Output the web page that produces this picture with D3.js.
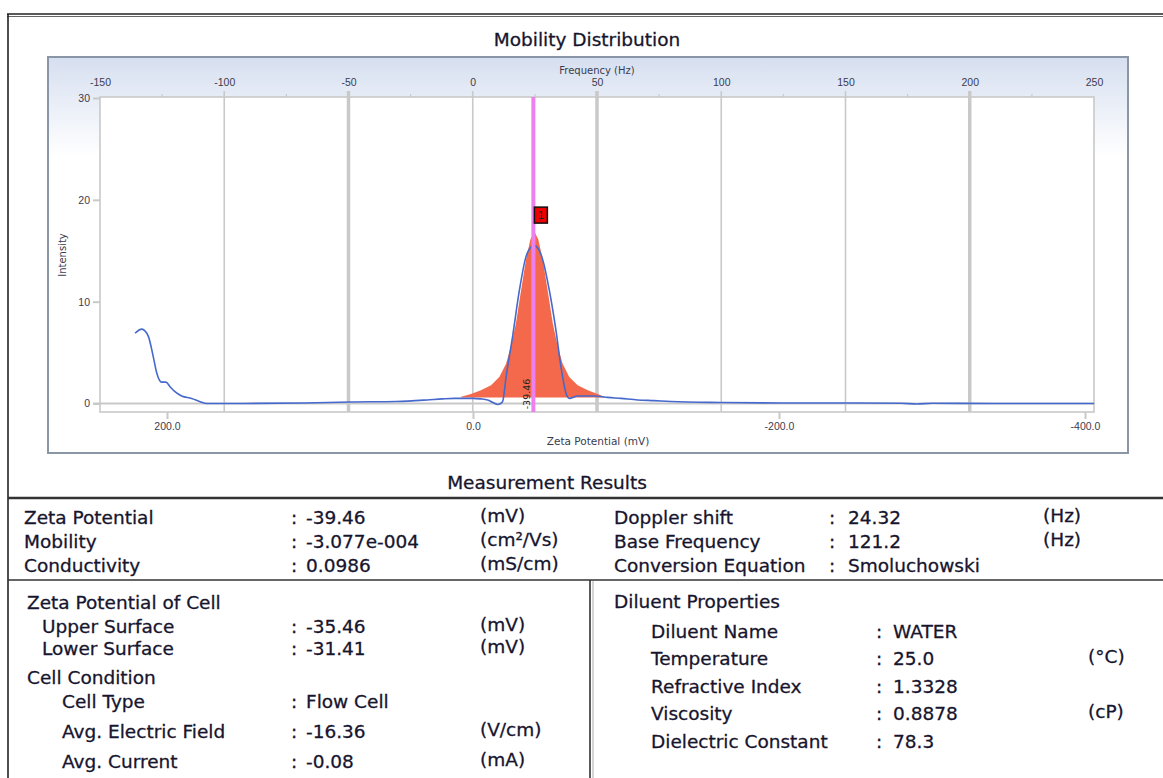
<!DOCTYPE html>
<html>
<head>
<meta charset="utf-8">
<script src="https://cdn.jsdelivr.net/npm/d3@7"></script>
<style>
  body { margin: 0; background: #fff; }
  svg { display: block; font-family: 'DejaVu Sans', Verdana, sans-serif; }
</style>
</head>
<body>
<div class="canvas"></div>
<script>
const hzTicks = [-150, -100, -50, 0, 50, 100, 150, 200, 250];
const hzMinorTicks = [-125, -75, -25, 25, 75, 125, 175, 225];
const hzThick = [-50, 50, 200];
const zetaTicks = [200, 0, -200, -400];
const intensityTicks = [0, 10, 20, 30];

const curveZeta = [220.9, 216.5, 212.2, 209, 206.7, 203.5, 200.7, 198, 194.8, 190.4, 183.9, 178.4, 174,
  150, 110, 80, 50, 30, 20, 12, 0, -5, -9.6, -13, -16.1, -18, -19.4, -21.6, -25.9, -30.3, -34.6, -37.5,
  -40.1, -42.7, -45.6, -49.9, -54.2, -57.5, -60.8, -62.9, -68.4, -79.1, -88, -96.7, -107.6, -118.3,
  -129.4, -162, -201, -250, -280, -290, -300, -340, -406];
const curveIntensity = [6.9, 7.3, 6.6, 4.6, 3.0, 2.1, 2.1, 1.65, 1.16, 0.74, 0.5, 0.18, 0.0,
  0.0, 0.05, 0.15, 0.2, 0.35, 0.45, 0.5, 0.5, 0.45, 0.35, 0.1, -0.1, 0.0, 0.2, 2.6, 6.6, 11.1, 14.4, 15.3,
  15.5, 15.2, 14.1, 11.1, 7.2, 3.6, 1.0, 0.5, 0.74, 0.74, 0.6, 0.5, 0.35, 0.28,
  0.2, 0.1, 0.05, 0.05, 0.03, -0.05, 0.03, 0.0, 0.0];

const peakZeta = [7.8, 1.3, -5.2, -11.8, -17.2, -21.6, -24.8, -28.1, -31.4, -34.6, -37.5, -40.1,
  -42.7, -45.6, -48.8, -52.1, -55.4, -58.6, -62.9, -68.4, -75, -81.5, -85.8];
const peakIntensity = [0.67, 0.93, 1.3, 1.8, 2.6, 3.9, 5.6, 7.9, 11.1, 14.1, 16.1, 16.9,
  16.1, 14.1, 11.1, 7.9, 5.6, 3.9, 2.6, 1.8, 1.3, 0.93, 0.67];
const peakBase = 0.6;
const zetaPeak = -39.46;
const peakNumber = '1';
const markerIntensity = 18.5;

const resultLabels = ['Zeta Potential', 'Mobility', 'Conductivity'];
const resultValues = ['-39.46', '-3.077e-004', '0.0986'];
const resultUnits = ['(mV)', '(cm²/Vs)', '(mS/cm)'];
const shiftLabels = ['Doppler shift', 'Base Frequency', 'Conversion Equation'];
const shiftValues = ['24.32', '121.2', 'Smoluchowski'];
const shiftUnits = ['(Hz)', '(Hz)', ''];
const surfaceLabels = ['Upper Surface', 'Lower Surface'];
const surfaceValues = ['-35.46', '-31.41'];
const surfaceUnits = ['(mV)', '(mV)'];
const conditionLabels = ['Cell Type', 'Avg. Electric Field', 'Avg. Current'];
const conditionValues = ['Flow Cell', '-16.36', '-0.08'];
const conditionUnits = ['', '(V/cm)', '(mA)'];
const diluentLabels = ['Diluent Name', 'Temperature', 'Refractive Index', 'Viscosity', 'Dielectric Constant'];
const diluentValues = ['WATER', '25.0', '1.3328', '0.8878', '78.3'];
const diluentUnits = ['', '(°C)', '', '(cP)', ''];

const width = 1163;
const height = 778;
const plot = { left: 100, right: 1094, top: 97, bottom: 412 };
const ink = '#17152e';
const axisInk = '#3b3b4f';
const gridColor = '#c9c9c9';

const svg = d3.select('.canvas')
  .append('svg')
  .attr('width', width)
  .attr('height', height);

svg.append('rect').attr('width', width).attr('height', height).attr('fill', '#fff');

const defs = svg.append('defs');
const grad = defs.append('linearGradient')
  .attr('id', 'panelFill')
  .attr('x1', 0).attr('y1', 0).attr('x2', 0).attr('y2', 1);
grad.append('stop').attr('offset', '0%').attr('stop-color', '#d6dff0');
grad.append('stop').attr('offset', '25%').attr('stop-color', '#ffffff');
grad.append('stop').attr('offset', '100%').attr('stop-color', '#ffffff');

// outer frame and table rules
svg.append('line').attr('x1', 7).attr('x2', width).attr('y1', 14).attr('y2', 14)
  .attr('stroke', '#222').attr('stroke-width', 1.6);
svg.append('line').attr('x1', 7).attr('x2', width).attr('y1', 16.5).attr('y2', 16.5)
  .attr('stroke', '#666').attr('stroke-width', 1);
svg.append('line').attr('x1', 8).attr('x2', 8).attr('y1', 14).attr('y2', height)
  .attr('stroke', '#222').attr('stroke-width', 1.6);
svg.append('line').attr('x1', 8).attr('x2', width).attr('y1', 498).attr('y2', 498)
  .attr('stroke', '#333').attr('stroke-width', 2.4);
svg.append('line').attr('x1', 8).attr('x2', width).attr('y1', 580).attr('y2', 580)
  .attr('stroke', '#333').attr('stroke-width', 1.6);
svg.append('line').attr('x1', 590).attr('x2', 590).attr('y1', 580).attr('y2', height)
  .attr('stroke', '#333').attr('stroke-width', 1.6);
svg.append('line').attr('x1', 593).attr('x2', 593).attr('y1', 581).attr('y2', height)
  .attr('stroke', '#aaa').attr('stroke-width', 1);

svg.append('text')
  .attr('x', 587).attr('y', 45.5)
  .attr('text-anchor', 'middle')
  .attr('font-size', 18.5)
  .attr('fill', ink)
  .attr('stroke', ink)
  .attr('stroke-width', 0.3)
  .text('Mobility Distribution');

// chart panel
svg.append('rect')
  .attr('x', 48).attr('y', 57)
  .attr('width', 1080).attr('height', 396)
  .attr('fill', 'url(#panelFill)')
  .attr('stroke', '#8a95a6')
  .attr('stroke-width', 2);

svg.append('rect')
  .attr('x', plot.left).attr('y', plot.top)
  .attr('width', plot.right - plot.left).attr('height', plot.bottom - plot.top)
  .attr('fill', '#fff')
  .attr('stroke', gridColor)
  .attr('stroke-width', 1.6);

const hz = d3.scaleLinear().domain([-150, 250]).range([plot.left, plot.right]);
const zeta = d3.scaleLinear().domain([200, -400]).range([167, 1085]);
const y = d3.scaleLinear().domain([0, 30]).range([403.5, 98]);

const grid = svg.append('g');
grid.selectAll('line.major')
  .data(hzTicks.slice(1, -1))
  .enter().append('line')
  .attr('class', 'major')
  .attr('x1', d => hz(d)).attr('x2', d => hz(d))
  .attr('y1', 91).attr('y2', plot.bottom)
  .attr('stroke', gridColor)
  .attr('stroke-width', d => hzThick.includes(d) ? 3.5 : 1.6);

grid.selectAll('line.minor')
  .data(hzMinorTicks)
  .enter().append('line')
  .attr('class', 'minor')
  .attr('x1', d => hz(d)).attr('x2', d => hz(d))
  .attr('y1', 94).attr('y2', plot.top)
  .attr('stroke', gridColor)
  .attr('stroke-width', 1.2);

grid.append('line')
  .attr('x1', 93).attr('x2', plot.right)
  .attr('y1', y(0)).attr('y2', y(0))
  .attr('stroke', gridColor)
  .attr('stroke-width', 2);

const styleAxis = g => {
  g.select('.domain').remove();
  g.selectAll('.tick line').attr('stroke', gridColor).attr('stroke-width', 2);
  g.selectAll('.tick text').attr('fill', axisInk).attr('font-size', 10.5);
};

svg.append('g')
  .attr('transform', 'translate(0, 90)')
  .call(d3.axisTop(hz).tickValues(hzTicks).tickSize(0).tickPadding(4).tickFormat(d => String(d)))
  .call(styleAxis);

svg.append('g')
  .attr('transform', `translate(0, ${plot.bottom})`)
  .call(d3.axisBottom(zeta).tickValues(zetaTicks).tickSize(7).tickPadding(4).tickFormat(d => d.toFixed(1)))
  .call(styleAxis);

svg.append('g')
  .attr('transform', `translate(${plot.left}, 0)`)
  .call(d3.axisLeft(y).tickValues(intensityTicks).tickSize(7).tickPadding(3).tickFormat(d => String(d)))
  .call(styleAxis);

svg.append('text')
  .attr('x', 597).attr('y', 74)
  .attr('text-anchor', 'middle')
  .attr('font-size', 10)
  .attr('fill', axisInk)
  .text('Frequency (Hz)');

svg.append('text')
  .attr('x', 598).attr('y', 445)
  .attr('text-anchor', 'middle')
  .attr('font-size', 10.5)
  .attr('fill', axisInk)
  .text('Zeta Potential (mV)');

svg.append('text')
  .attr('transform', 'translate(66, 255) rotate(-90)')
  .attr('text-anchor', 'middle')
  .attr('font-size', 10)
  .attr('fill', axisInk)
  .text('Intensity');

// distribution
const peakArea = d3.area()
  .x(d => zeta(d[0]))
  .y0(y(peakBase))
  .y1(d => y(d[1]));

svg.append('path')
  .datum(d3.zip(peakZeta, peakIntensity))
  .attr('d', peakArea)
  .attr('fill', '#f4694b');

const curveLine = d3.line()
  .x(d => zeta(d[0]))
  .y(d => y(d[1]))
  .curve(d3.curveMonotoneX);

svg.append('path')
  .datum(d3.zip(curveZeta, curveIntensity))
  .attr('d', curveLine)
  .attr('fill', 'none')
  .attr('stroke', '#4569cc')
  .attr('stroke-width', 1.6);

svg.append('line')
  .attr('x1', zeta(zetaPeak)).attr('x2', zeta(zetaPeak))
  .attr('y1', plot.top).attr('y2', plot.bottom)
  .attr('stroke', '#ee80ee')
  .attr('stroke-width', 4);

svg.append('text')
  .attr('transform', `translate(${zeta(zetaPeak) - 3}, 394) rotate(-90)`)
  .attr('text-anchor', 'middle')
  .attr('font-size', 9.5)
  .attr('fill', '#222')
  .text(zetaPeak.toFixed(2));

svg.append('rect')
  .attr('x', zeta(zetaPeak) + 1).attr('y', y(markerIntensity) - 8)
  .attr('width', 13).attr('height', 16)
  .attr('fill', '#ee0000')
  .attr('stroke', '#111')
  .attr('stroke-width', 1.5);

svg.append('text')
  .attr('x', zeta(zetaPeak) + 7.5).attr('y', y(markerIntensity) + 4)
  .attr('text-anchor', 'middle')
  .attr('font-size', 10)
  .attr('fill', '#222')
  .text(peakNumber);

// measurement results
svg.append('text')
  .attr('x', 547).attr('y', 488.5)
  .attr('text-anchor', 'middle')
  .attr('font-size', 18.5)
  .attr('fill', ink)
  .attr('stroke', ink)
  .attr('stroke-width', 0.3)
  .text('Measurement Results');

const table = svg.append('g')
  .attr('font-size', 18.5)
  .attr('fill', ink)
  .attr('stroke', ink)
  .attr('stroke-width', 0.3);

const addRows = (labels, values, units, rows, cols) => {
  labels.forEach((label, i) => {
    const yy = rows[i];
    table.append('text').attr('x', cols[0]).attr('y', yy).text(label);
    table.append('text').attr('x', cols[1]).attr('y', yy).text(':');
    table.append('text').attr('x', cols[2]).attr('y', yy).text(values[i]);
    if (units[i]) {
      table.append('text').attr('x', cols[3]).attr('y', yy - 2).text(units[i]);
    }
  });
};

addRows(resultLabels, resultValues, resultUnits, [523.5, 547.5, 571.5], [24, 291, 306, 480]);
addRows(shiftLabels, shiftValues, shiftUnits, [523.5, 547.5, 571.5], [614, 829, 848, 1043]);

table.append('text').attr('x', 27).attr('y', 608.5).text('Zeta Potential of Cell');
addRows(surfaceLabels, surfaceValues, surfaceUnits, [632.5, 654.5], [42, 291, 306, 480]);
table.append('text').attr('x', 27).attr('y', 683.5).text('Cell Condition');
addRows(conditionLabels, conditionValues, conditionUnits, [707.5, 737.5, 767.5], [62, 291, 306, 480]);

table.append('text').attr('x', 614).attr('y', 607.5).text('Diluent Properties');
addRows(diluentLabels, diluentValues, diluentUnits, [637.5, 664.5, 692.5, 719.5, 747.5], [651, 876, 893, 1088]);
</script>
</body>
</html>
